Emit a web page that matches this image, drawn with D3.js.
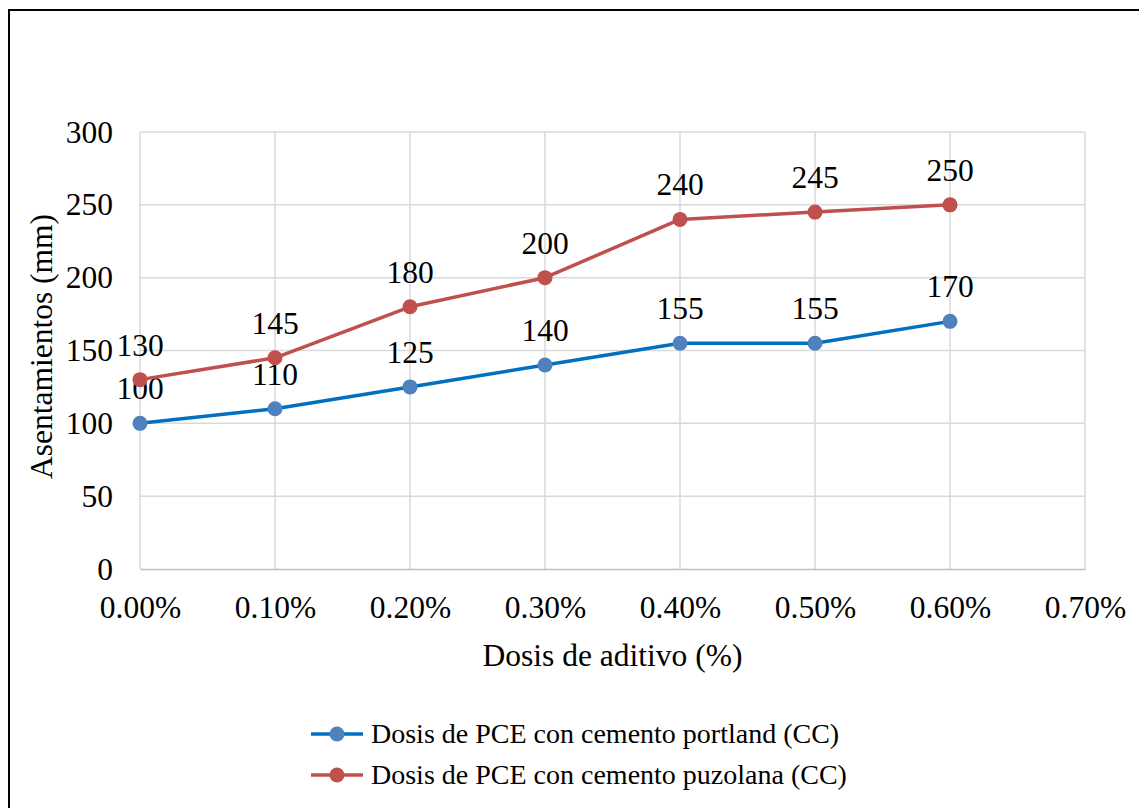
<!DOCTYPE html>
<html>
<head>
<meta charset="utf-8">
<script src="https://cdn.jsdelivr.net/npm/d3@7"></script>
<style>
  html, body { margin: 0; padding: 0; background: #fff; }
  svg { display: block; }
  text { font-family: "Liberation Serif", "Times New Roman", serif; fill: #000; }
</style>
</head>
<body>
<svg id="chart" width="1139" height="808"></svg>
<script>
// Additive dose (fraction) on the x axis
const doses = [0.000, 0.001, 0.002, 0.003, 0.004, 0.005, 0.006];
// Slump values (mm) per cement type
const portland = [100, 110, 125, 140, 155, 155, 170];
const puzolana = [130, 145, 180, 200, 240, 245, 250];
const seriesNames = [
  "Dosis de PCE con cemento portland (CC)",
  "Dosis de PCE con cemento puzolana (CC)"
];
const xTicks = [0, 0.001, 0.002, 0.003, 0.004, 0.005, 0.006, 0.007];
const yTicks = [0, 50, 100, 150, 200, 250, 300];

const series = [
  { name: seriesNames[0], values: portland, line: "#0070C0", marker: "#4F81BD" },
  { name: seriesNames[1], values: puzolana, line: "#C0504D", marker: "#C0504D" }
];

const FS = 31.5;

const svg = d3.select("#chart");

// Outer frame
svg.append("rect")
  .attr("x", 9).attr("y", 10)
  .attr("width", 1200).attr("height", 900)
  .attr("fill", "none").attr("stroke", "#000").attr("stroke-width", 2);

const plot = { left: 140, right: 1085, top: 132, bottom: 569 };

const x = d3.scaleLinear().domain([0, 0.007]).range([plot.left, plot.right]);
const y = d3.scaleLinear().domain([0, 300]).range([plot.bottom, plot.top]);

// Gridlines
const grid = svg.append("g");
grid.selectAll("line.h").data(yTicks.filter(d => d > 0)).join("line")
  .attr("x1", plot.left).attr("x2", plot.right)
  .attr("y1", d => y(d)).attr("y2", d => y(d))
  .attr("stroke", "#D9D9D9").attr("stroke-width", 1.5);
grid.selectAll("line.v").data(xTicks).join("line")
  .attr("x1", d => x(d)).attr("x2", d => x(d))
  .attr("y1", plot.top).attr("y2", plot.bottom)
  .attr("stroke", "#D9D9D9").attr("stroke-width", 1.5);

// X axis
const xAxis = svg.append("g")
  .attr("transform", `translate(0,${plot.bottom})`)
  .attr("font-family", null)
  .call(d3.axisBottom(x).tickValues(xTicks).tickFormat(d3.format(".2%")).tickSize(0).tickPadding(27));
xAxis.attr("font-family", null);
xAxis.select(".domain").attr("stroke", "#BFBFBF").attr("stroke-width", 1.5);
xAxis.selectAll("text").style("font-size", FS + "px");

// Y axis
const yAxis = svg.append("g")
  .attr("transform", `translate(${plot.left},0)`)
  .call(d3.axisLeft(y).tickValues(yTicks).tickSize(0).tickPadding(27));
yAxis.attr("font-family", null);
yAxis.select(".domain").remove();
yAxis.selectAll("text").style("font-size", FS + "px");

// Axis titles
svg.append("text")
  .attr("x", (plot.left + plot.right) / 2).attr("y", 666)
  .attr("text-anchor", "middle").style("font-size", FS + "px")
  .text("Dosis de aditivo (%)");
svg.append("text")
  .attr("transform", `translate(52,${(plot.top + plot.bottom) / 2 - 4}) rotate(-90)`)
  .attr("text-anchor", "middle").style("font-size", FS + "px")
  .text("Asentamientos (mm)");

// Lines, markers, value labels
const line = d3.line().x((d, i) => x(doses[i])).y(d => y(d));
series.forEach(s => {
  const g = svg.append("g");
  g.append("path").datum(s.values)
    .attr("d", line).attr("fill", "none")
    .attr("stroke", s.line).attr("stroke-width", 3.5).attr("stroke-linejoin", "round");
  g.selectAll("circle").data(s.values).join("circle")
    .attr("cx", (d, i) => x(doses[i])).attr("cy", d => y(d)).attr("r", 7.5)
    .attr("fill", s.marker);
  g.selectAll("text").data(s.values).join("text")
    .attr("x", (d, i) => x(doses[i])).attr("y", d => y(d) - 24)
    .attr("text-anchor", "middle").style("font-size", FS + "px")
    .text(d => d);
});

// Legend
const legend = svg.append("g");
series.forEach((s, i) => {
  const ly = 734 + i * 41;
  legend.append("line")
    .attr("x1", 311).attr("x2", 363).attr("y1", ly).attr("y2", ly)
    .attr("stroke", s.line).attr("stroke-width", 3.5);
  legend.append("circle").attr("cx", 337).attr("cy", ly).attr("r", 7.5).attr("fill", s.marker);
  legend.append("text")
    .attr("x", 371).attr("y", ly + 9)
    .style("font-size", "28px")
    .text(s.name);
});
</script>
</body>
</html>
